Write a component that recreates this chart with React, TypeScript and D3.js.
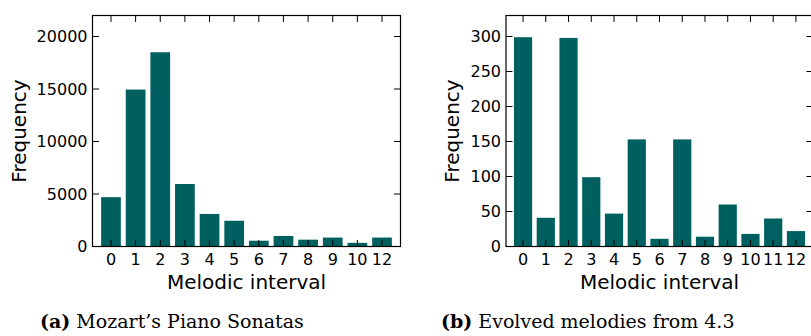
import React from "react";
import * as d3 from "d3";

const intervalsA = ["0", "1", "2", "3", "4", "5", "6", "7", "8", "9", "10", "12"];
const freqA = [4700, 14950, 18500, 5950, 3100, 2450, 550, 1000, 650, 850, 350, 850];
const ticksA = [0, 5000, 10000, 15000, 20000];

const intervalsB = ["0", "1", "2", "3", "4", "5", "6", "7", "8", "9", "10", "11", "12"];
const freqB = [299, 41, 298, 99, 47, 153, 11, 153, 14, 60, 18, 40, 22];
const ticksB = [0, 50, 100, 150, 200, 250, 300];

const BAR = "#006060";
const FONT = "DejaVu Sans";

type PanelProps = {
  cats: string[];
  vals: number[];
  yTicks: number[];
  yMax: number;
  x0: number;
  x1: number;
  yLabelX: number;
};

function Panel({ cats, vals, yTicks, yMax, x0, x1, yLabelX }: PanelProps) {
  const top = 15.5;
  const bottom = 246.5;
  const x = d3.scaleLinear().domain([-0.75, cats.length - 0.25]).range([x0, x1]);
  const y = d3.scaleLinear().domain([0, yMax]).range([bottom, top]);
  const bw = (x(0.8) - x(0));
  const tl = 6.5;
  return (
    <g>
      {vals.map((v, i) => (
        <rect key={i} x={x(i) - bw / 2} y={y(v)} width={bw} height={bottom - y(v)} fill={BAR} />
      ))}
      {cats.map((c, i) => (
        <g key={"xt" + i}>
          <line x1={x(i)} x2={x(i)} y1={bottom} y2={bottom - tl} stroke="#000" strokeWidth={1} />
          <line x1={x(i)} x2={x(i)} y1={top} y2={top + tl} stroke="#000" strokeWidth={1} />
          <text x={x(i)} y={265} textAnchor="middle" fontFamily={FONT} fontSize={16} fill="#000">
            {c}
          </text>
        </g>
      ))}
      {yTicks.map((t) => (
        <g key={"yt" + t}>
          <line x1={x0} x2={x0 + tl} y1={y(t)} y2={y(t)} stroke="#000" strokeWidth={1} />
          <line x1={x1} x2={x1 - tl} y1={y(t)} y2={y(t)} stroke="#000" strokeWidth={1} />
          <text x={x0 - 5} y={y(t)} dy="0.36em" textAnchor="end" fontFamily={FONT} fontSize={16} fill="#000">
            {t}
          </text>
        </g>
      ))}
      <rect x={x0} y={top} width={x1 - x0} height={bottom - top} fill="none" stroke="#000" strokeWidth={1.2} />
      <text x={(x0 + x1) / 2} y={289} textAnchor="middle" fontFamily={FONT} fontSize={20} fill="#000">
        Melodic interval
      </text>
      <text
        transform={`translate(${yLabelX},${(top + bottom) / 2}) rotate(-90)`}
        textAnchor="middle"
        fontFamily={FONT}
        fontSize={20}
        fill="#000"
      >
        Frequency
      </text>
    </g>
  );
}

export default function App() {
  return (
    <svg width={811} height={336} style={{ position: "absolute", left: 0, top: 0, background: "#fff" }}>
      <rect width={811} height={336} fill="#fff" />
      <Panel cats={intervalsA} vals={freqA} yTicks={ticksA} yMax={22000} x0={92.5} x1={400.5} yLabelX={26} />
      <Panel cats={intervalsB} vals={freqB} yTicks={ticksB} yMax={330} x0={506} x1={813} yLabelX={458.5} />
      <text x={40} y={328} fontFamily="DejaVu Serif" fontSize={19} fill="#000">
        <tspan fontWeight="bold">(a)</tspan> Mozart’s Piano Sonatas
      </text>
      <text x={441} y={328} fontFamily="DejaVu Serif" fontSize={19} fill="#000">
        <tspan fontWeight="bold">(b)</tspan> Evolved melodies from 4.3
      </text>
    </svg>
  );
}
